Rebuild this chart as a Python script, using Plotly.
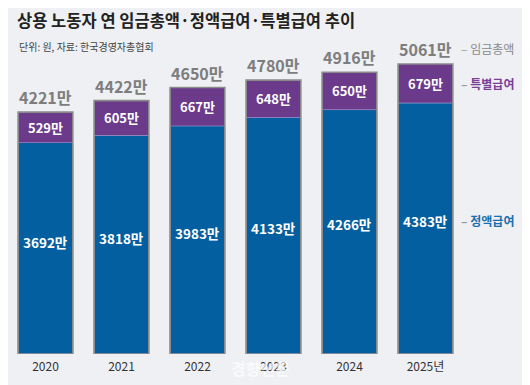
import plotly.graph_objects as go

years = ["2020", "2021", "2022", "2023", "2024", "2025년"]
regular = [3692, 3818, 3983, 4133, 4266, 4383]   # 정액급여 (만원)
special = [529, 605, 667, 648, 650, 679]         # 특별급여 (만원)
total = [4221, 4422, 4650, 4780, 4916, 5061]     # 임금총액 (만원)

BLUE = "#035f9f"
PURPLE = "#6b3a8b"
GREY = "#7d7d7d"
BG = "#eef0f3"
KR = "Noto Sans CJK KR"

fig = go.Figure()
fig.add_trace(go.Bar(x=years, y=regular, marker=dict(color=BLUE, line=dict(color="#b9a9dc", width=1)),
                     width=0.72, hoverinfo="skip"))
fig.add_trace(go.Bar(x=years, y=special, base=regular, marker=dict(color=PURPLE, line=dict(width=0)),
                     width=0.72, hoverinfo="skip",
                     text=[f"{v}만" for v in special], textposition="inside", insidetextanchor="middle",
                     textfont=dict(family=KR, size=13, color="white", weight="bold"), textangle=0))
fig.add_trace(go.Bar(x=years, y=total, marker=dict(color="rgba(0,0,0,0)", line=dict(color="#8a8a8a", width=1.6)),
                     width=0.72, hoverinfo="skip"))

ann = []
for i in range(len(years)):
    ann.append(dict(x=i, y=total[i], xref="x", yref="y", text=f"{total[i]}만", showarrow=False,
                    yanchor="middle", yshift=15,
                    font=dict(family=KR, size=16, color=GREY, weight="bold")))
    ann.append(dict(x=i, y=regular[i] * 0.53, xref="x", yref="y", text=f"{regular[i]}만", showarrow=False,
                    font=dict(family=KR, size=13.5, color="white", weight="bold")))

last = len(years) - 1
dash = "<span style='color:#9a9a9a'>–</span> "
ann.append(dict(x=last + 0.44, y=total[last], xref="x", yref="y", text=dash + "임금총액",
                showarrow=False, xanchor="left", yanchor="middle", yshift=16,
                font=dict(family=KR, size=12, color="#8a8a8a")))
ann.append(dict(x=last + 0.44, y=regular[last] + special[last] / 2, xref="x", yref="y",
                text=dash + "특별급여",
                showarrow=False, xanchor="left", font=dict(family=KR, size=12, color="#7a3f98", weight="bold")))
ann.append(dict(x=last + 0.44, y=regular[last] * 0.53, xref="x", yref="y",
                text=dash + "정액급여",
                showarrow=False, xanchor="left", font=dict(family=KR, size=12, color="#1a6fae", weight="bold")))

ann.append(dict(x=0.0154, y=1.064, xref="paper", yref="paper", xanchor="left", yanchor="middle",
                text="상용 노동자 연 임금총액·정액급여·특별급여 추이", showarrow=False,
                font=dict(family=KR, size=16.5, color="#222222", weight="bold")))
ann.append(dict(x=0.0197, y=0.978, xref="paper", yref="paper", xanchor="left", yanchor="middle",
                text="단위: 원, 자료: 한국경영자총협회", showarrow=False,
                font=dict(family=KR, size=10, color="#444444")))
ann.append(dict(x=0.553, y=-0.0446, xref="paper", yref="paper", xanchor="center", yanchor="middle",
                text="경향신문", showarrow=False,
                font=dict(family=KR, size=16, color="rgba(255,255,255,0.7)", weight="bold")))

fig.update_layout(
    width=530, height=385,
    barmode="overlay",
    showlegend=False,
    paper_bgcolor=BG, plot_bgcolor=BG,
    margin=dict(l=0, r=74, t=32, b=39),
    annotations=ann,
    xaxis=dict(range=[-0.493, 5.507], showgrid=False, showline=False, zeroline=False, ticks="",
               ticklabelstandoff=4,
               tickfont=dict(family="Liberation Sans Narrow, Arial Narrow, " + KR, size=12, color="#333333")),
    yaxis=dict(range=[0, 5480], visible=False, showgrid=False, zeroline=False),
)

fig.write_html("out.html")
